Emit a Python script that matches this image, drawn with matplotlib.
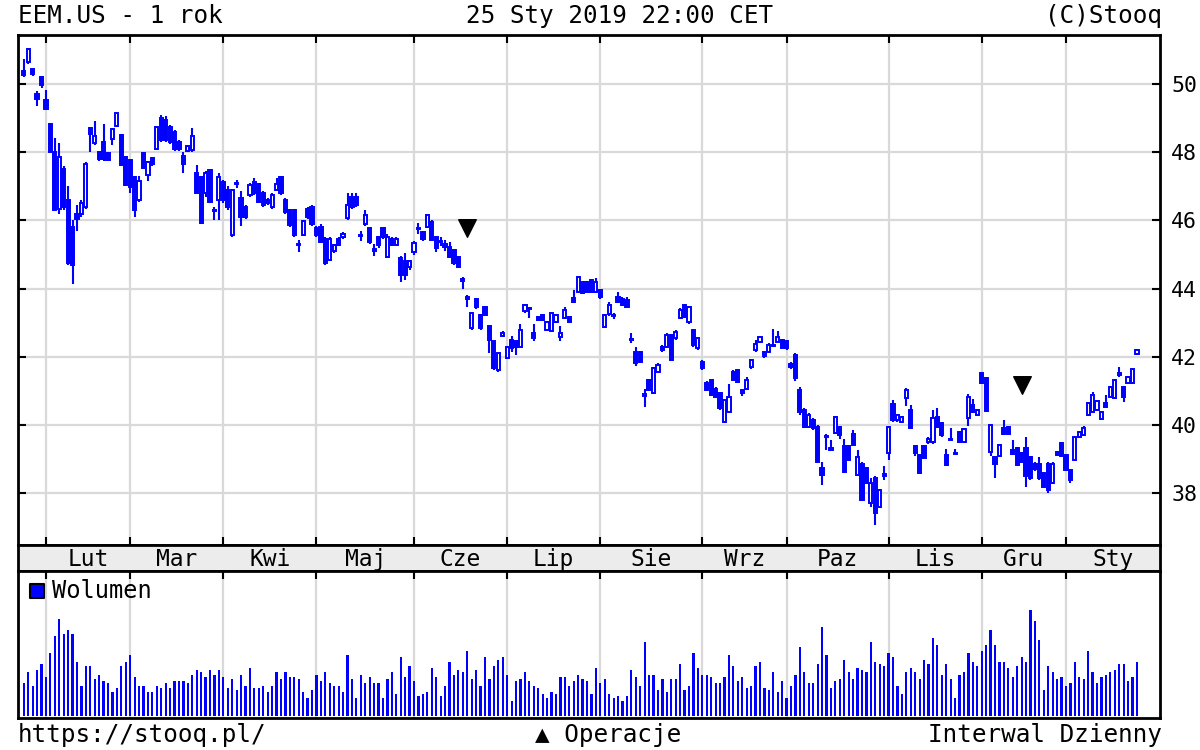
import matplotlib.pyplot as plt
import numpy as np

# dane dzienne (indeks = kolejny dzien sesyjny od 25 sty 2018)
opens = [50.39, 50.65, 50.43, 49.72, 50.20, 49.53, 48.82, 48.00, 46.35, 47.50,
         46.60, 45.80, 46.20, 46.20, 46.40, 48.70, 48.28, 48.00, 48.30, 47.97,
         48.40, 48.78, 48.50, 47.87, 47.77, 47.28, 46.60, 47.99, 47.33, 47.82,
         48.11, 49.00, 48.95, 48.75, 48.60, 48.30, 47.90, 48.04, 48.06, 47.38,
         47.28, 46.80, 47.48, 46.32, 46.60, 47.13, 46.90, 45.57, 47.10, 46.65,
         46.40, 46.74, 47.13, 47.08, 46.80, 46.60, 46.40, 46.89, 47.28, 46.60,
         46.30, 46.30, 45.32, 45.57, 46.35, 46.40, 45.77, 45.80, 45.47, 44.84,
         45.10, 45.47, 45.52, 46.06, 46.70, 46.70, 45.57, 45.90, 45.77, 45.15,
         45.52, 45.77, 44.93, 45.47, 45.28, 44.89, 44.80, 44.64, 45.08, 45.79,
         45.67, 45.82, 45.96, 45.52, 45.40, 45.30, 45.23, 45.13, 44.94, 44.27,
         43.74, 42.84, 43.69, 43.23, 43.47, 42.89, 42.45, 41.60, 42.60, 41.96,
         42.50, 42.45, 42.30, 43.33, 43.44, 42.70, 43.18, 43.23, 42.79, 42.77,
         43.03, 42.57, 43.13, 43.18, 43.72, 43.91, 44.20, 44.20, 44.25, 43.91,
         43.96, 42.88, 43.27, 43.24, 43.76, 43.71, 43.66, 42.53, 42.15, 42.15,
         40.90, 41.32, 40.93, 41.56, 42.30, 42.30, 42.64, 42.54, 43.13, 43.52,
         43.03, 42.78, 42.25, 41.86, 41.22, 41.32, 41.07, 40.93, 40.10, 40.39,
         41.56, 41.61, 41.02, 41.07, 41.69, 42.20, 42.44, 42.15, 42.15, 42.36,
         42.44, 42.49, 42.45, 41.80, 42.05, 41.03, 40.44, 39.95, 40.15, 39.95,
         38.73, 39.64, 39.32, 39.76, 39.95, 39.37, 39.37, 39.75, 38.53, 38.87,
         38.73, 37.70, 38.44, 37.60, 38.55, 39.17, 40.63, 40.15, 40.10, 40.78,
         40.44, 39.37, 39.12, 39.37, 39.50, 39.50, 40.24, 40.05, 39.12, 39.60,
         39.18, 39.80, 39.50, 40.20, 40.59, 40.29, 41.52, 41.37, 39.22, 39.07,
         39.09, 39.90, 39.95, 39.27, 39.32, 39.17, 39.32, 39.05, 38.87, 38.87,
         38.58, 38.87, 38.31, 39.22, 39.46, 39.12, 38.68, 38.97, 39.66, 39.71,
         40.29, 40.39, 40.44, 40.17, 40.66, 40.83, 40.78, 41.52, 41.12, 41.22,
         41.24, 42.08]
highs = [50.75, 51.05, 50.45, 49.80, 50.25, 49.82, 48.85, 48.43, 48.26, 47.60,
         47.00, 46.00, 46.45, 46.60, 47.70, 48.75, 48.92, 48.05, 48.82, 48.00,
         48.70, 49.15, 48.55, 47.90, 47.80, 47.30, 47.30, 48.00, 47.75, 47.85,
         48.75, 49.10, 49.05, 48.80, 48.65, 48.35, 48.00, 48.20, 48.70, 47.62,
         47.30, 47.45, 47.50, 46.40, 47.40, 47.20, 47.00, 46.92, 47.20, 46.85,
         46.45, 47.10, 47.25, 47.10, 46.85, 46.65, 46.80, 47.25, 47.30, 46.65,
         46.35, 46.35, 45.42, 46.00, 46.40, 46.45, 45.85, 45.90, 45.50, 45.50,
         45.30, 45.50, 45.65, 46.80, 46.80, 46.80, 45.70, 46.30, 45.80, 45.30,
         45.55, 45.82, 45.60, 45.50, 45.50, 44.95, 45.05, 44.85, 45.40, 45.92,
         45.70, 46.20, 46.00, 45.55, 45.52, 45.42, 45.38, 45.15, 44.96, 44.35,
         43.82, 43.30, 43.72, 43.25, 43.50, 42.92, 42.47, 42.12, 42.76, 42.32,
         42.60, 42.47, 42.97, 43.55, 43.47, 42.95, 43.20, 43.25, 43.05, 43.30,
         43.25, 42.90, 43.45, 43.20, 43.95, 44.38, 44.22, 44.22, 44.28, 44.30,
         44.00, 43.25, 43.60, 43.30, 43.90, 43.75, 43.75, 42.70, 42.30, 42.18,
         41.07, 41.35, 41.70, 41.83, 42.35, 42.70, 42.68, 42.80, 43.42, 43.55,
         43.50, 42.80, 42.56, 41.90, 41.28, 41.35, 41.10, 40.96, 40.75, 41.20,
         41.60, 41.65, 41.05, 41.40, 41.95, 42.50, 42.62, 42.18, 42.40, 42.83,
         42.75, 42.52, 42.50, 41.85, 42.10, 41.10, 40.50, 40.35, 40.20, 40.00,
         38.90, 39.75, 39.56, 40.26, 39.97, 39.60, 39.40, 39.85, 39.27, 38.90,
         38.75, 38.44, 38.50, 38.12, 38.80, 39.97, 40.73, 40.32, 40.26, 41.08,
         40.60, 39.40, 39.15, 39.40, 39.65, 40.44, 40.50, 40.10, 39.30, 39.90,
         39.30, 39.82, 39.90, 40.90, 40.75, 40.48, 41.55, 41.40, 40.00, 39.10,
         39.45, 40.15, 39.98, 39.55, 39.35, 39.20, 39.65, 39.10, 38.90, 39.07,
         38.60, 38.90, 38.90, 39.25, 39.50, 39.15, 38.70, 39.68, 39.82, 39.97,
         40.66, 40.98, 40.71, 40.41, 40.88, 41.14, 41.34, 41.70, 41.14, 41.44,
         41.65, 42.22]
lows = [50.20, 50.60, 50.25, 49.35, 49.90, 49.25, 48.00, 46.30, 46.20, 46.30,
        44.70, 44.15, 45.70, 46.10, 46.35, 48.00, 48.20, 47.75, 47.75, 47.75,
        48.20, 48.75, 47.60, 47.00, 46.80, 46.10, 46.55, 47.50, 47.15, 47.60,
        48.10, 48.30, 48.30, 48.25, 48.05, 48.05, 47.40, 48.00, 48.00, 46.80,
        45.90, 46.70, 46.50, 46.00, 46.00, 46.50, 46.30, 45.50, 46.95, 45.85,
        46.05, 46.70, 46.75, 46.50, 46.40, 46.45, 46.35, 46.85, 46.75, 46.20,
        45.80, 45.50, 45.08, 45.55, 46.05, 45.85, 45.50, 45.35, 44.70, 44.80,
        45.05, 45.25, 45.45, 46.00, 46.35, 46.40, 45.40, 45.85, 45.30, 44.95,
        45.20, 45.45, 44.90, 45.25, 45.25, 44.20, 44.25, 44.55, 45.00, 45.60,
        45.40, 45.78, 45.40, 45.08, 45.25, 45.10, 44.90, 44.70, 44.60, 44.00,
        43.47, 42.80, 43.40, 42.80, 43.20, 42.10, 41.60, 41.55, 42.58, 41.94,
        42.15, 42.05, 42.28, 43.30, 43.15, 42.45, 43.05, 43.05, 42.77, 42.75,
        43.00, 42.45, 43.10, 43.00, 43.58, 43.88, 43.84, 43.88, 43.90, 43.88,
        43.70, 42.85, 43.20, 43.10, 43.58, 43.50, 43.45, 42.40, 41.73, 41.82,
        40.54, 41.00, 40.90, 41.54, 42.15, 42.25, 41.90, 42.50, 43.10, 43.15,
        42.95, 42.30, 42.20, 41.60, 41.00, 40.85, 40.80, 40.45, 40.05, 40.35,
        41.30, 41.25, 40.85, 41.05, 41.65, 42.15, 42.40, 41.97, 42.12, 42.30,
        42.40, 42.22, 42.20, 41.65, 41.30, 40.30, 39.90, 39.90, 39.85, 38.90,
        38.24, 39.27, 39.25, 39.74, 39.60, 38.60, 38.95, 39.37, 38.50, 37.78,
        38.28, 37.60, 37.07, 37.58, 38.40, 38.97, 40.10, 40.10, 40.05, 40.55,
        39.88, 39.10, 38.55, 39.00, 39.45, 39.45, 39.90, 39.65, 38.80, 39.55,
        39.15, 39.48, 39.48, 39.97, 40.35, 40.25, 41.20, 40.39, 39.10, 38.44,
        39.05, 39.70, 39.72, 39.12, 38.80, 38.90, 38.19, 38.40, 38.65, 38.40,
        38.15, 38.00, 38.28, 39.10, 39.05, 38.65, 38.30, 38.95, 39.64, 39.69,
        40.27, 40.37, 40.42, 40.15, 40.52, 40.81, 40.76, 41.40, 40.68, 41.20,
        41.22, 42.06]
closes = [50.26, 51.02, 50.30, 49.55, 49.97, 49.27, 48.02, 46.32, 47.87, 46.40,
          44.75, 44.70, 46.05, 46.52, 47.67, 48.55, 48.47, 47.80, 47.80, 47.77,
          48.67, 49.14, 47.62, 47.04, 46.99, 46.30, 47.17, 47.53, 47.72, 47.67,
          48.74, 48.36, 48.36, 48.30, 48.10, 48.10, 47.67, 48.18, 48.47, 46.81,
          45.92, 47.40, 46.55, 46.28, 47.28, 46.60, 46.40, 46.89, 47.06, 46.10,
          46.10, 47.04, 46.80, 46.55, 46.45, 46.50, 46.74, 47.08, 46.80, 46.25,
          45.86, 45.57, 45.28, 45.98, 46.10, 45.90, 45.57, 45.38, 44.74, 45.47,
          45.28, 45.28, 45.60, 46.45, 46.40, 46.45, 45.53, 46.16, 45.38, 45.11,
          45.28, 45.52, 45.52, 45.28, 45.47, 44.40, 44.40, 44.80, 45.35, 45.75,
          45.45, 46.16, 45.43, 45.18, 45.36, 45.23, 44.94, 44.74, 44.64, 44.23,
          43.70, 43.28, 43.45, 42.84, 43.23, 42.50, 41.66, 42.10, 42.70, 42.30,
          42.25, 42.30, 42.79, 43.52, 43.40, 42.55, 43.08, 43.08, 43.03, 43.28,
          43.23, 42.69, 43.37, 43.03, 43.62, 44.35, 43.86, 43.90, 43.91, 44.20,
          43.75, 43.22, 43.52, 43.20, 43.60, 43.52, 43.47, 42.50, 41.81, 41.86,
          40.86, 41.02, 41.66, 41.76, 42.20, 42.64, 41.92, 42.74, 43.37, 43.17,
          43.47, 42.34, 42.54, 41.66, 41.02, 40.88, 40.83, 40.49, 40.73, 40.83,
          41.32, 41.27, 40.93, 41.32, 41.90, 42.39, 42.59, 42.02, 42.34, 42.33,
          42.59, 42.25, 42.25, 41.69, 41.37, 40.39, 39.95, 40.29, 39.90, 38.92,
          38.53, 39.68, 39.28, 40.24, 39.70, 38.63, 38.97, 39.40, 39.07, 37.80,
          38.30, 38.30, 37.41, 38.10, 38.50, 39.95, 40.15, 40.29, 40.24, 41.03,
          39.90, 39.17, 38.58, 39.02, 39.60, 40.20, 39.95, 39.70, 38.83, 39.56,
          39.16, 39.50, 39.87, 40.83, 40.39, 40.44, 41.22, 40.42, 40.00, 38.87,
          39.41, 39.75, 39.75, 39.15, 38.83, 38.92, 38.50, 38.45, 38.70, 38.44,
          38.19, 38.10, 38.87, 39.12, 39.09, 38.68, 38.39, 39.66, 39.80, 39.90,
          40.64, 40.88, 40.69, 40.39, 40.54, 41.12, 41.32, 41.48, 40.83, 41.42,
          41.63, 42.20]
volumes = [97, 129, 90, 135, 154, 116, 187, 239, 289, 245,
           257, 245, 161, 90, 148, 148, 110, 122, 103, 97,
           71, 84, 148, 161, 180, 116, 90, 90, 71, 71,
           90, 84, 97, 84, 103, 103, 103, 97, 122, 135,
           129, 116, 135, 122, 135, 116, 84, 110, 77, 122,
           90, 142, 84, 84, 90, 71, 90, 129, 110, 129,
           116, 116, 110, 71, 52, 77, 122, 103, 129, 97,
           90, 90, 71, 180, 110, 52, 122, 97, 116, 97,
           97, 52, 110, 129, 65, 174, 116, 148, 103, 58,
           65, 71, 142, 116, 58, 90, 161, 122, 135, 129,
           193, 110, 135, 90, 174, 110, 148, 167, 174, 122,
           45, 103, 110, 129, 103, 90, 84, 65, 52, 71,
           65, 116, 116, 90, 103, 122, 110, 103, 65, 142,
           97, 110, 65, 52, 58, 45, 58, 135, 116, 90,
           219, 122, 122, 77, 110, 71, 110, 110, 154, 77,
           90, 187, 142, 122, 122, 116, 97, 97, 116, 180,
           148, 103, 116, 84, 90, 148, 161, 84, 77, 129,
           71, 103, 52, 90, 122, 206, 129, 97, 97, 154,
           264, 180, 84, 103, 110, 167, 129, 110, 142, 135,
           129, 219, 161, 154, 148, 187, 174, 90, 65, 129,
           142, 129, 110, 167, 154, 232, 212, 122, 154, 110,
           52, 122, 129, 187, 161, 148, 193, 212, 257, 212,
           161, 161, 142, 116, 148, 174, 161, 315, 283, 225,
           77, 148, 129, 110, 116, 90, 97, 161, 116, 110,
           193, 129, 97, 116, 122, 129, 135, 154, 154, 103,
           116, 161]

month_names = ['Lut', 'Mar', 'Kwi', 'Maj', 'Cze', 'Lip', 'Sie', 'Wrz', 'Paz', 'Lis', 'Gru', 'Sty']
month_starts = [5, 24, 45, 66, 88, 109, 130, 153, 172, 195, 216, 235]
price_ticks = [38, 40, 42, 44, 46, 48, 50]

# operacje (trojkaty)
op_idx = [100, 225]
op_price = [45.78, 41.17]

plt.rcParams['font.family'] = ['DejaVu Sans Mono', 'DejaVu Sans']

blue = '#0000ff'
grid_col = '#d9d9d9'
W, H = 1200, 750
xmin, xmax = -1.3, 256.2


def box(x0, y0, x1, y1):
    return [x0 / W, 1 - y1 / H, (x1 - x0) / W, (y1 - y0) / H]


fig = plt.figure(figsize=(12, 7.5), dpi=100)
ax = fig.add_axes(box(18, 35, 1160, 545))
band = fig.add_axes(box(18, 545, 1160, 571))
axv = fig.add_axes(box(18, 571, 1160, 718))

# swiece
o = np.array(opens)
h = np.array(highs)
l = np.array(lows)
c = np.array(closes)
x = np.arange(len(o))
up = c >= o
bot = np.minimum(o, c)
hgt = np.maximum(np.abs(c - o), 0.02)

ax.vlines(x, l, h, color=blue, lw=1.5, zorder=3)
ax.bar(x[up], hgt[up], bottom=bot[up], width=0.72, facecolor='white',
       edgecolor=blue, lw=1.4, zorder=4)
ax.bar(x[~up], hgt[~up], bottom=bot[~up], width=0.72, facecolor=blue,
       edgecolor=blue, lw=1.4, zorder=4)
ax.scatter(op_idx, op_price, marker='v', s=160, color='black', zorder=5)

ax.set_xlim(xmin, xmax)
ax.set_ylim(36.48, 51.44)
ax.set_yticks(price_ticks)
ax.set_xticks(month_starts)
ax.grid(True, color=grid_col, lw=1.6)
ax.set_axisbelow(True)
ax.tick_params(axis='x', direction='in', length=6, width=1.5, top=True, bottom=True,
               labelbottom=False)
ax.tick_params(axis='y', direction='in', length=6, width=1.5, left=True, right=True,
               labelleft=False, labelright=True, labelsize=15.5, pad=8)
for s in ax.spines.values():
    s.set_linewidth(2)

# pasek z miesiacami
band.set_facecolor('#ececec')
band.set_xlim(xmin, xmax)
band.set_ylim(0, 1)
band.set_xticks([])
band.set_yticks([])
bounds = month_starts + [xmax]
for i, name in enumerate(month_names):
    band.text((bounds[i] + bounds[i + 1]) / 2, 0.45, name, ha='center', va='center',
              fontsize=16.5)
for s in band.spines.values():
    s.set_linewidth(2)

# wolumen
axv.bar(x, volumes, width=0.5, color=blue, zorder=3)
axv.set_xlim(xmin, xmax)
axv.set_ylim(-7, 432)
axv.set_xticks(month_starts)
axv.set_yticks([])
axv.grid(True, axis='x', color=grid_col, lw=1.6)
axv.set_axisbelow(True)
axv.tick_params(axis='x', direction='in', length=6, width=1.5, top=True, bottom=False,
                labelbottom=False)
for s in axv.spines.values():
    s.set_linewidth(2)
axv.scatter([0.0166], [0.864], transform=axv.transAxes, marker='s', s=110,
            facecolor=blue, edgecolor='black', linewidths=1.5, zorder=5)
axv.text(0.0298, 0.864, 'Wolumen', transform=axv.transAxes, va='center', fontsize=17)

# napisy
fig.text(18 / W, 1 - 16 / H, 'EEM.US - 1 rok', va='center', fontsize=17.5)
fig.text(620 / W, 1 - 16 / H, '25 Sty 2019 22:00 CET', va='center', ha='center', fontsize=17.5)
fig.text(1162 / W, 1 - 16 / H, '(C)Stooq', va='center', ha='right', fontsize=17.5)
fig.text(18 / W, 1 - 735 / H, 'https://stooq.pl/', va='center', fontsize=17.5)
fig.text(608 / W, 1 - 735 / H, '▲ Operacje', va='center', ha='center', fontsize=17.5)
fig.text(1162 / W, 1 - 735 / H, 'Interwal Dzienny', va='center', ha='right', fontsize=17.5)

fig.savefig('out.png', dpi=100)
